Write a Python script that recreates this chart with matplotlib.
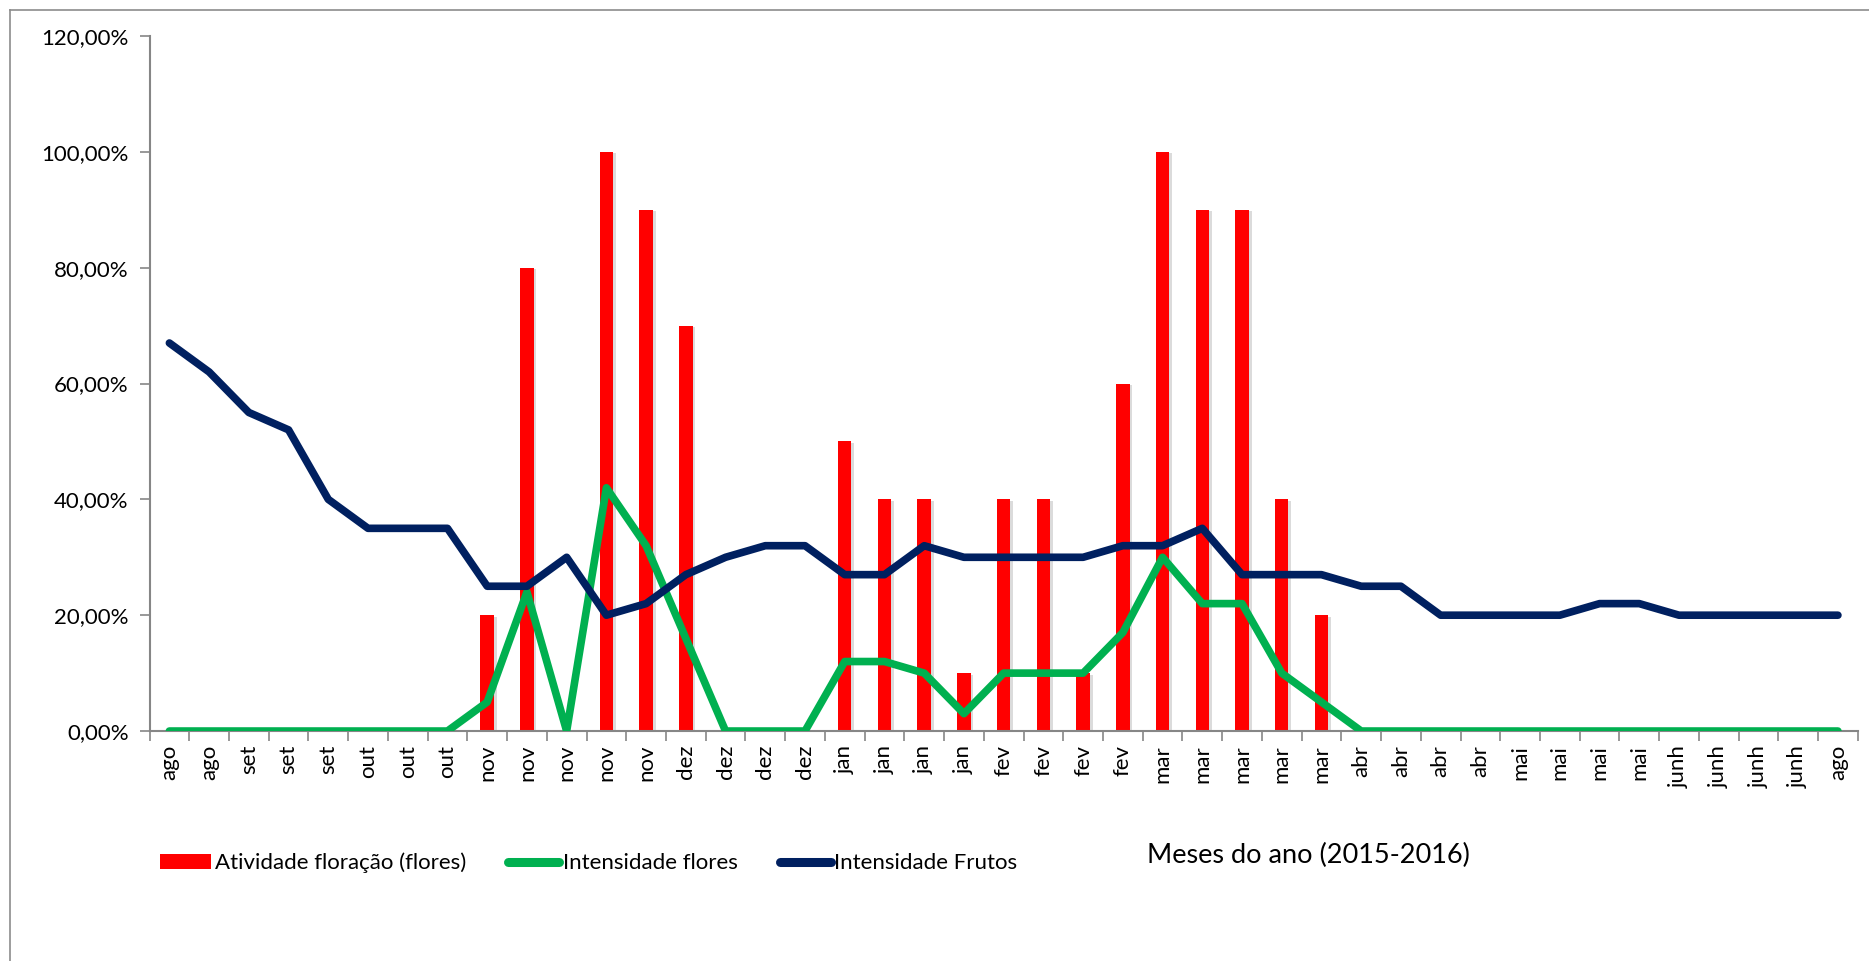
import matplotlib
matplotlib.use("Agg")
import matplotlib.pyplot as plt
import matplotlib.patheffects as pe
from matplotlib.lines import Line2D
from matplotlib.patches import Patch
from matplotlib.ticker import FixedLocator, FuncFormatter
import numpy as np

plt.rcParams["font.family"] = ["Lato", "DejaVu Sans"]

meses = [
    "ago", "ago", "set", "set", "set", "out", "out", "out",
    "nov", "nov", "nov", "nov", "nov", "dez", "dez", "dez", "dez",
    "jan", "jan", "jan", "jan", "fev", "fev", "fev", "fev",
    "mar", "mar", "mar", "mar", "mar", "abr", "abr", "abr", "abr",
    "mai", "mai", "mai", "mai", "junh", "junh", "junh", "junh", "ago",
]

# percentuais por coleta
atividade_floracao = [
    0, 0, 0, 0, 0, 0, 0, 0,
    20, 80, 0, 100, 90, 70, 0, 0, 0,
    50, 40, 40, 10, 40, 40, 10, 60,
    100, 90, 90, 40, 20, 0, 0, 0, 0,
    0, 0, 0, 0, 0, 0, 0, 0, 0,
]
intensidade_flores = [
    0, 0, 0, 0, 0, 0, 0, 0,
    5, 24, 0, 42, 32, 16, 0, 0, 0,
    12, 12, 10, 3, 10, 10, 10, 17,
    30, 22, 22, 10, 5, 0, 0, 0, 0,
    0, 0, 0, 0, 0, 0, 0, 0, 0,
]
intensidade_frutos = [
    67, 62, 55, 52, 40, 35, 35, 35,
    25, 25, 30, 20, 22, 27, 30, 32, 32,
    27, 27, 32, 30, 30, 30, 30, 32,
    32, 35, 27, 27, 27, 25, 25, 20, 20,
    20, 20, 22, 22, 20, 20, 20, 20, 20,
]

RED = "#FF0000"
GREEN = "#00B050"
NAVY = "#002060"
AXIS_GRAY = "#868686"
FS = 16

fig = plt.figure(figsize=(18.69, 9.61), dpi=100)
ax = fig.add_axes([0.080, 0.2393, 0.914, 0.7232])

x = np.arange(len(meses))
bars = ax.bar(x, atividade_floracao, width=0.34, color=RED, zorder=2)
for b in bars:
    b.set_path_effects([
        pe.SimplePatchShadow(offset=(2, -1), shadow_rgbFace="#999999", alpha=0.35),
        pe.Normal(),
    ])

line_kw = dict(linewidth=5.5, solid_capstyle="round", solid_joinstyle="round", zorder=3)
ax.plot(x, intensidade_flores, color=GREEN, **line_kw)
ax.plot(x, intensidade_frutos, color=NAVY, **line_kw)

ax.set_xlim(-0.5, len(meses) - 0.5)
ax.set_ylim(0, 120)

ax.set_yticks(np.arange(0, 121, 20))
ax.yaxis.set_major_formatter(FuncFormatter(lambda v, p: f"{v:.2f}".replace(".", ",") + "%"))

ax.set_xticks(x)
ax.set_xticklabels(meses, rotation=90)
ax.xaxis.set_minor_locator(FixedLocator(np.arange(-0.5, len(meses), 1)))
ax.tick_params(axis="x", which="major", length=0, pad=10, labelsize=FS)
ax.tick_params(axis="x", which="minor", length=7, width=1.2, color=AXIS_GRAY)
ax.tick_params(axis="y", length=7, width=1.2, color=AXIS_GRAY, pad=8, labelsize=FS)

for side in ("top", "right"):
    ax.spines[side].set_visible(False)
for side in ("left", "bottom"):
    ax.spines[side].set_color(AXIS_GRAY)
    ax.spines[side].set_linewidth(1.5)

handles = [
    Patch(facecolor=RED, edgecolor="none"),
    Line2D([0], [0], color=GREEN, linewidth=6.5, solid_capstyle="round"),
    Line2D([0], [0], color=NAVY, linewidth=6.5, solid_capstyle="round"),
]
labels = ["Atividade floração (flores)", "Intensidade flores", "Intensidade Frutos"]
fig.legend(
    handles, labels, ncol=3, frameon=False, fontsize=FS,
    loc="center left", bbox_to_anchor=(0.075, 1 - 863 / 961),
    handlelength=2.3, handletextpad=0.15, columnspacing=1.9,
)

fig.text(1147 / 1869, 1 - 855 / 961, "Meses do ano (2015-2016)", fontsize=19.5,
         ha="left", va="center")

# moldura do gráfico
fig.add_artist(Line2D([10 / 1869, 1.0], [1 - 10 / 961] * 2, color="#8c8c8c", linewidth=1.2))
fig.add_artist(Line2D([10 / 1869] * 2, [0.0, 1 - 10 / 961], color="#8c8c8c", linewidth=1.2))

fig.savefig("out.png", dpi=100)
